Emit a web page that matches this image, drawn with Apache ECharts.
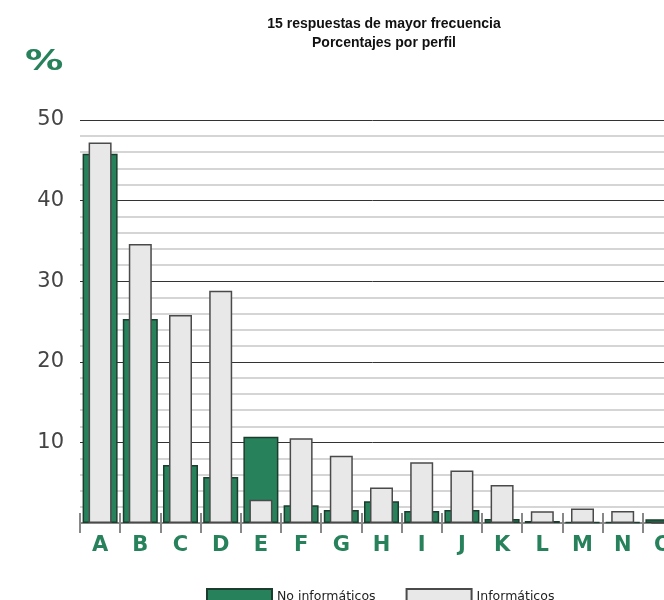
<!DOCTYPE html>
<html>
<head>
<meta charset="utf-8">
<script src="https://cdn.jsdelivr.net/npm/echarts@6/dist/echarts.min.js"></script>
<style>
  html, body { margin: 0; padding: 0; background: #ffffff; }
  #chart { width: 664px; height: 600px; }
</style>
</head>
<body>
<div id="chart"></div>
<script>
// Answer codes (15 most frequent answers)
const categories = ['A', 'B', 'C', 'D', 'E', 'F', 'G', 'H', 'I', 'J', 'K', 'L', 'M', 'N', 'O'];

// Percentage of respondents per profile
const noInformaticos = [45.8, 25.3, 7.2, 5.7, 10.7, 2.2, 1.6, 2.7, 1.5, 1.6, 0.5, 0.25, 0.1, 0.1, 0.45];
const informaticos   = [47.2, 34.6, 25.8, 28.8, 2.9, 10.5, 8.35, 4.4, 7.55, 6.5, 4.7, 1.45, 1.8, 1.5, 0];

const seriesNames = ['No informáticos', 'Informáticos'];
const titleLines = ['15 respuestas de mayor frecuencia', 'Porcentajes por perfil'];

const GREEN = '#27825c';
const GREEN_DARK = '#1b3d2d';
const LIGHT = '#e8e8e8';
const LIGHT_EDGE = '#4a4a4a';

const chart = echarts.init(document.getElementById('chart'), null, { renderer: 'canvas' });

chart.setOption({
  animation: false,
  backgroundColor: '#ffffff',
  graphic: [
    {
      type: 'text', left: 384 - 150, top: 15,
      style: {
        text: titleLines.join('\n'), width: 300, align: 'center',
        x: 150, textAlign: 'center',
        font: 'bold 14px "Liberation Sans", Arial, sans-serif',
        lineHeight: 19, fill: '#111111'
      }
    },
    {
      type: 'text', x: 25, y: 48, scaleX: 1.32,
      style: {
        text: '%', font: 'bold 29px "DejaVu Sans", Verdana, sans-serif', fill: GREEN
      }
    }
  ],
  legend: {
    left: 206, top: 588, padding: 0,
    itemWidth: 65, itemHeight: 15, itemGap: 30,
    icon: 'rect',
    textStyle: { fontFamily: '"DejaVu Sans", Verdana, sans-serif', fontSize: 12.5, color: '#222222' },
    data: seriesNames
  },
  grid: {
    left: 80, top: 120, width: 603, height: 403,
    containLabel: false, outerBoundsMode: 'none'
  },
  xAxis: [
    {
      type: 'category', data: categories, position: 'bottom',
      axisLine: { show: true, lineStyle: { color: '#888888', width: 2 } },
      axisTick: { show: true, length: 10, lineStyle: { color: '#888888', width: 2 } },
      axisLabel: {
        color: GREEN, fontSize: 21, fontWeight: 'bold',
        fontFamily: '"DejaVu Sans", Verdana, sans-serif', margin: 12
      },
      splitLine: { show: false }
    },
    {
      type: 'category', data: categories, position: 'bottom',
      axisLine: { show: false },
      axisTick: { show: true, inside: true, length: 10, lineStyle: { color: '#888888', width: 2 } },
      axisLabel: { show: false },
      splitLine: { show: false }
    }
  ],
  yAxis: {
    type: 'value', min: 0, max: 50, interval: 10,
    axisLine: { show: false },
    axisTick: { show: false },
    axisLabel: {
      showMinLabel: false, color: '#444444', fontSize: 21,
      fontFamily: '"DejaVu Sans", Verdana, sans-serif', margin: 16
    },
    splitLine: { show: true, lineStyle: { color: '#333333', width: 1 } },
    minorTick: { show: false, splitNumber: 5 },
    minorSplitLine: { show: true, lineStyle: { color: '#c8c8c8', width: 1.5 } }
  },
  series: [
    {
      name: seriesNames[0], type: 'bar', xAxisIndex: 0,
      data: noInformaticos, barWidth: 35,
      itemStyle: { color: GREEN, borderColor: GREEN_DARK, borderWidth: 1.5 }
    },
    {
      name: seriesNames[1], type: 'bar', xAxisIndex: 1,
      data: informaticos, barWidth: 23,
      itemStyle: { color: LIGHT, borderColor: LIGHT_EDGE, borderWidth: 1.5 }
    }
  ]
});
</script>
</body>
</html>
